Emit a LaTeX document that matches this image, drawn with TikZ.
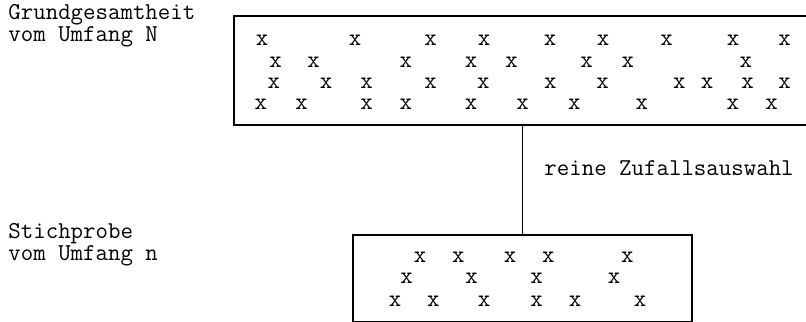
\documentclass[tikz,border=0pt]{standalone}
\usepackage{fontspec}
\begin{document}
\begin{tikzpicture}[x=0.5pt,y=-0.5pt,
  txt/.style={font=\ttfamily\fontsize{12.1}{14}\selectfont, inner sep=0pt, anchor=base west},
  xm/.style={font=\ttfamily\fontsize{12.1}{14}\selectfont, inner sep=0pt, anchor=center},
  boxline/.style={draw, line width=0.8pt, inner sep=0pt}]
\useasboundingbox (0,0) rectangle (806,321);
% boxes
\node[boxline, minimum width=298pt, minimum height=54.5pt] (pop) at (532,70.5) {};
\node[boxline, minimum width=169.5pt, minimum height=43.25pt] (sample) at (522.5,278.25) {};
\draw[line width=0.8pt] (sample.north) -- (sample.north |- pop.south);
% labels
\node[txt] (g1) at (8,19) {Grundgesamtheit};
\node[txt] (g2) at (8,41) {vom Umfang N};
\node[txt] (s1) at (8,238) {Stichprobe};
\node[txt] (s2) at (8,260) {vom Umfang n};
\node[txt] (z) at (544,175) {reine Zufallsauswahl};
% population x's
\foreach \x [count=\i] in {262,355,430.5,484,550,603,666.5,733,784.5}
  \node[xm] (pa\i) at (\x,40) {x};
\foreach \x [count=\i] in {275.7,313.6,405.8,471,511.7,586.5,627.8,745.8}
  \node[xm] (pb\i) at (\x,62) {x};
\foreach \x [count=\i] in {273.8,326.2,366.7,430.5,483.3,550.4,602.7,679.4,707.1,747.6,784.5}
  \node[xm] (pc\i) at (\x,83) {x};
\foreach \x [count=\i] in {260.9,301.5,366.7,405.8,471.1,522.7,574.3,641.8,732.9,771.6}
  \node[xm] (pd\i) at (\x,104) {x};
% sample x's
\foreach \x [count=\i] in {420,458.3,510,548.3,627.3}
  \node[xm] (sa\i) at (\x,257.3) {x};
\foreach \x [count=\i] in {406.7,471.7,536.7,614}
  \node[xm] (sb\i) at (\x,278.3) {x};
\foreach \x [count=\i] in {395,433.3,484,536.7,575,640}
  \node[xm] (sc\i) at (\x,301.7) {x};
\end{tikzpicture}
\end{document}
